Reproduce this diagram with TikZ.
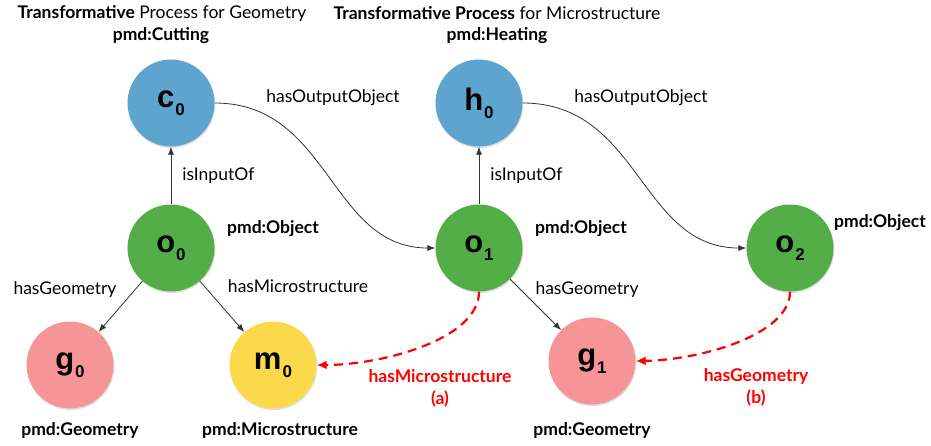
\documentclass[tikz,border=0pt]{standalone}
\usepackage{fontspec}
\setmainfont{Lato}
\newfontfamily\nodefont{Liberation Sans}
\usetikzlibrary{arrows.meta,shadows}
\definecolor{cblue}{HTML}{5DA5CF}
\definecolor{cgreen}{HTML}{53AE47}
\definecolor{cpink}{HTML}{F59598}
\definecolor{cyellow}{HTML}{FCD94A}
\definecolor{cline}{HTML}{333333}
\definecolor{cred}{HTML}{FF0000}
\newcommand{\ent}[2]{{\nodefont\bfseries\fontsize{31}{31}\selectfont #1\kern1pt\raisebox{-8pt}{\fontsize{17}{17}\selectfont #2}}}
\tikzset{
  ent/.style={circle,minimum size=87pt,inner sep=0pt,draw=none,
    drop shadow={opacity=0.25,shadow xshift=0.8pt,shadow yshift=-1.5pt}},
  lbl/.style={font=\fontsize{17.5}{20}\selectfont,inner sep=0pt},
  blbl/.style={font=\fontsize{17.5}{20}\selectfont\bfseries,inner sep=0pt},
  rlbl/.style={font=\fontsize{17.5}{22}\selectfont\bfseries,text=cred,align=center,inner sep=0pt},
  rel/.style={draw=cline,line width=0.8pt,-{Latex[length=8pt,width=6pt]}},
  inf/.style={draw=cred,line width=2.2pt,dash pattern=on 9pt off 6pt,-{Latex[length=10pt,width=9pt]}}
}
\begin{document}
\begin{tikzpicture}[x=1pt,y=-1pt]
\useasboundingbox (0,0) rectangle (931,445);
% entity nodes
\node[ent,fill=cblue] (c0) at (171,103) {\ent{c}{0}};
\node[ent,fill=cblue] (h0) at (479,103) {\ent{h}{0}};
\node[ent,fill=cgreen] (o0) at (171,248) {\ent{o}{0}};
\node[ent,fill=cgreen] (o1) at (479,248) {\ent{o}{1}};
\node[ent,fill=cgreen] (o2) at (790,248) {\ent{o}{2}};
\node[ent,fill=cpink] (g0) at (70,365) {\ent{g}{0}};
\node[ent,fill=cyellow] (m0) at (273,365) {\ent{m}{0}};
\node[ent,fill=cpink] (g1) at (592,361) {\ent{g}{1}};
% titles
\node[lbl] (t1) at (162,13) {\textbf{Transformative} Process for Geometry};
\node[blbl] (t1b) at (161,36) {pmd:Cutting};
\node[lbl] (t2) at (497,13) {\textbf{Transformative Process} for Microstructure};
\node[blbl] (t2b) at (497,36) {pmd:Heating};
% type labels
\node[blbl] (p1) at (273,229) {pmd:Object};
\node[blbl] (p2) at (581,229) {pmd:Object};
\node[blbl] (p3) at (880,223) {pmd:Object};
\node[blbl] (p4) at (80,430) {pmd:Geometry};
\node[blbl] (p5) at (280,430) {pmd:Microstructure};
\node[blbl] (p6) at (592,430) {pmd:Geometry};
% edges
\draw[rel] (o0) -- (c0) node[lbl,pos=0.5,right=11pt] (l1) {isInputOf};
\draw[rel] (o1) -- (h0) node[lbl,pos=0.5,right=11pt] (l2) {isInputOf};
\draw[rel] (c0.east) .. controls (330,103) and (330,248) .. (o1.west);
\draw[rel] (h0.east) .. controls (640,103) and (640,248) .. (o2.west);
\node[lbl] (l3) at (333,98) {hasOutputObject};
\node[lbl] (l4) at (641,98) {hasOutputObject};
\draw[rel] (o0) -- (g0);
\draw[rel] (o0) -- (m0);
\draw[rel] (o1) -- (g1);
\node[lbl] (l5) at (65,290) {hasGeometry};
\node[lbl] (l6) at (298,286) {hasMicrostructure};
\node[lbl] (l7) at (587,290) {hasGeometry};
\draw[inf] (o1.south) .. controls (479,340) and (380,365) .. (m0.east);
\draw[inf] (o2.south) .. controls (790,335) and (700,360) .. (g1.east);
\node[rlbl] (r1) at (440,388) {hasMicrostructure\\(a)};
\node[rlbl] (r2) at (756,387) {hasGeometry\\(b)};
\end{tikzpicture}
\end{document}
